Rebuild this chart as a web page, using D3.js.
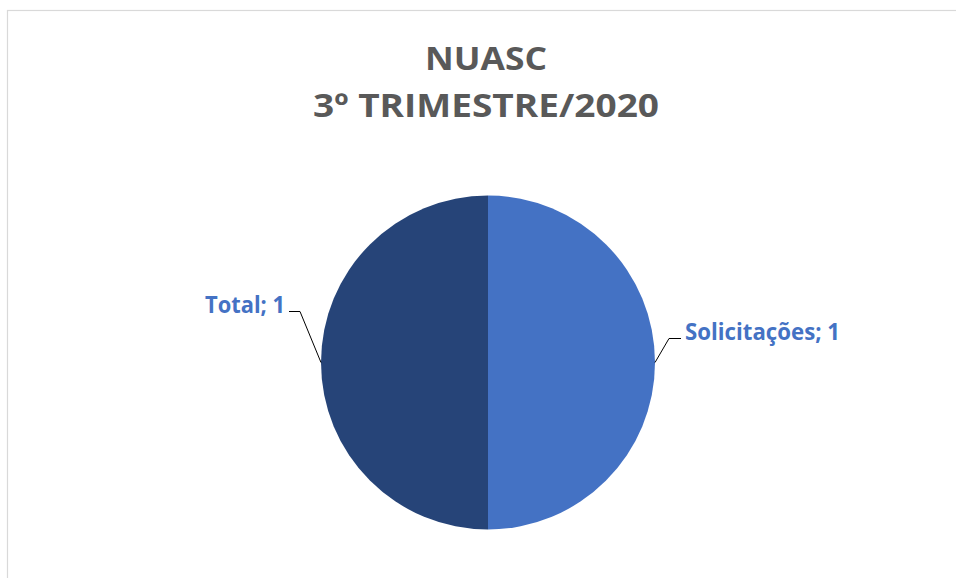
<!DOCTYPE html>
<html>
<head>
<meta charset="utf-8">
<script src="https://cdn.jsdelivr.net/npm/d3@7"></script>
<style>
  html, body { margin: 0; padding: 0; background: #fff; }
  svg { display: block; }
</style>
</head>
<body>
<div id="chart"></div>
<script>
// chart data
const titleLines = ["NUASC", "3º TRIMESTRE/2020"];
const categories = ["Solicitações", "Total"];
const values = [1, 1];
const colors = ["#4472C4", "#264478"];

const width = 956;
const height = 578;
const cx = 488;
const cy = 362.5;
const radius = 167;
const font = "'Open Sans', Lato, sans-serif";

const svg = d3.select("#chart")
  .append("svg")
  .attr("width", width)
  .attr("height", height);

// chart area border (runs off right and bottom like the screenshot)
svg.append("rect")
  .attr("x", 7.5)
  .attr("y", 10.5)
  .attr("width", width + 20)
  .attr("height", height + 20)
  .attr("fill", "none")
  .attr("stroke", "#d9d9d9")
  .attr("stroke-width", 1.2);

// title
const titleBase = [70, 117];
const titleWidth = [122, 346];
svg.selectAll("text.title")
  .data(titleLines)
  .enter()
  .append("text")
  .attr("class", "title")
  .attr("x", 486)
  .attr("y", (d, i) => titleBase[i])
  .attr("text-anchor", "middle")
  .attr("font-family", font)
  .attr("font-weight", "bold")
  .attr("font-size", 33)
  .attr("fill", "#595959")
  .attr("textLength", (d, i) => titleWidth[i])
  .attr("lengthAdjust", "spacingAndGlyphs")
  .text((d) => d);

const pie = d3.pie().sort(null).value((d) => d.value);
const arc = d3.arc().innerRadius(0).outerRadius(radius);

const data = categories.map((c, i) => ({ name: c, value: values[i], color: colors[i] }));
const arcs = pie(data);

const g = svg.append("g").attr("transform", `translate(${cx},${cy})`);

g.selectAll("path.slice")
  .data(arcs)
  .enter()
  .append("path")
  .attr("class", "slice")
  .attr("d", arc)
  .attr("fill", (d) => d.data.color);

// labels with leader lines; offsets relative to the arc midpoint
const labelOffset = [
  { elbow: [14, -24], end: [26, -24], width: 155 },
  { elbow: [-21, -51], end: [-32, -51], width: 80 }
];

arcs.forEach((d, i) => {
  const mid = (d.startAngle + d.endAngle) / 2;
  const px = Math.sin(mid) * radius;
  const py = -Math.cos(mid) * radius;
  const o = labelOffset[i];
  const ex = px + o.elbow[0], ey = py + o.elbow[1];
  const tx = px + o.end[0], ty = py + o.end[1];
  const right = px > 0;

  g.append("polyline")
    .attr("points", `${px},${py} ${ex},${ey} ${tx},${ty}`)
    .attr("fill", "none")
    .attr("stroke", "#000")
    .attr("stroke-width", 1);

  g.append("text")
    .attr("x", tx + (right ? 4 : -4))
    .attr("y", ty + 1)
    .attr("text-anchor", right ? "start" : "end")
    .attr("font-family", font)
    .attr("font-weight", "bold")
    .attr("font-size", 24)
    .attr("fill", "#4472C4")
    .attr("textLength", o.width)
    .attr("lengthAdjust", "spacingAndGlyphs")
    .text(`${d.data.name}; ${d.data.value}`);
});
</script>
</body>
</html>
